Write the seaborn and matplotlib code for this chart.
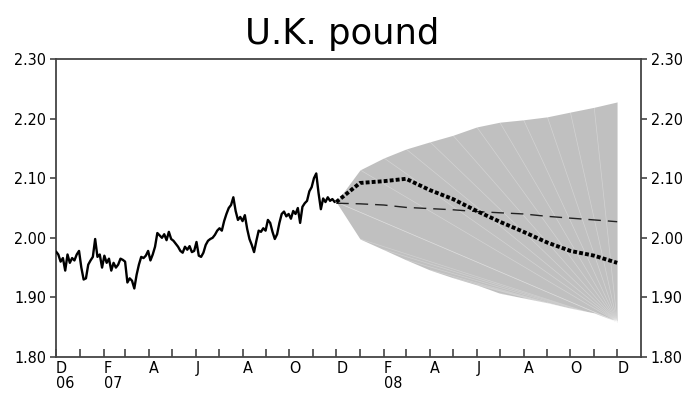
import numpy as np
import pandas as pd
import matplotlib
matplotlib.use("Agg")
import matplotlib.pyplot as plt
import matplotlib.dates as mdates
import seaborn as sns

# ---- data ----
hist_values = [
    1.977, 1.972, 1.960, 1.966, 1.945, 1.972, 1.958, 1.966, 1.962, 1.972,
    1.978, 1.950, 1.930, 1.932, 1.955, 1.962, 1.968, 1.998, 1.968, 1.972,
    1.950, 1.970, 1.958, 1.965, 1.945, 1.958, 1.950, 1.955, 1.965, 1.963,
    1.960, 1.925, 1.932, 1.928, 1.915, 1.938, 1.955, 1.968, 1.966, 1.970,
    1.978, 1.962, 1.972, 1.985, 2.008, 2.004, 2.000, 2.006, 1.996, 2.010,
    1.998, 1.995, 1.990, 1.985, 1.978, 1.975, 1.985, 1.980, 1.986, 1.976,
    1.978, 1.993, 1.970, 1.968, 1.975, 1.988, 1.995, 1.998, 2.000, 2.005,
    2.012, 2.016, 2.012, 2.028, 2.040, 2.050, 2.055, 2.068, 2.045, 2.030,
    2.035, 2.028, 2.038, 2.015, 1.998, 1.988, 1.976, 1.995, 2.012, 2.010,
    2.016, 2.012, 2.030, 2.025, 2.010, 1.998, 2.006, 2.025, 2.040, 2.044,
    2.036, 2.040, 2.032, 2.045, 2.040, 2.050, 2.025, 2.052, 2.058, 2.062,
    2.078, 2.085, 2.100, 2.108, 2.075, 2.048, 2.066, 2.060, 2.068, 2.062,
    2.065, 2.060,
]
hist_dates = pd.date_range("2006-12-01", periods=len(hist_values), freq="3D")

fc_dates = pd.date_range("2007-12-01", periods=13, freq="MS")
fan_upper = [2.060, 2.114, 2.134, 2.149, 2.161, 2.172, 2.186, 2.194, 2.198, 2.203, 2.211, 2.219, 2.228]
fan_lower = [2.060, 1.998, 1.980, 1.963, 1.946, 1.933, 1.921, 1.907, 1.899, 1.891, 1.882, 1.874, 1.859]
dotted_fc = [2.060, 2.092, 2.095, 2.099, 2.080, 2.065, 2.045, 2.027, 2.010, 1.992, 1.978, 1.970, 1.958]
dashed_fc = [2.058, 2.057, 2.055, 2.051, 2.049, 2.047, 2.044, 2.042, 2.040, 2.036, 2.033, 2.030, 2.027]

month_ticks = pd.date_range("2006-12-01", "2008-12-01", freq="MS")
month_letters = ["D", "J", "F", "M", "A", "M", "J", "J", "A", "S", "O", "N",
                 "D", "J", "F", "M", "A", "M", "J", "J", "A", "S", "O", "N", "D"]
year_labels = {0: "06", 2: "07", 14: "08"}
y_ticks = [1.80, 1.90, 2.00, 2.10, 2.20, 2.30]
title = "U.K. pound"

# ---- style ----
sns.set_style("ticks")
plt.rcParams["font.family"] = ["DejaVu Sans"]
plt.rcParams["font.stretch"] = "condensed"
plt.rcParams["text.color"] = "black"
plt.rcParams["xtick.color"] = "black"
plt.rcParams["ytick.color"] = "black"

fig = plt.figure(figsize=(6.85, 4.01), dpi=100)
ax = fig.add_axes([56 / 685, 1 - 357 / 401, (641 - 56) / 685, (357 - 59) / 401])

hist = pd.DataFrame({"date": hist_dates, "value": hist_values})
fc = pd.DataFrame({"date": fc_dates, "upper": fan_upper, "lower": fan_lower,
                   "dotted": dotted_fc, "dashed": dashed_fc})

# fan
ax.fill_between(fc["date"], fc["lower"], fc["upper"], color="#c0c0c0", lw=0, zorder=1)
end_x = mdates.date2num(fc["date"].iloc[-1])
end_y = fc["lower"].iloc[-1]
for d, u in zip(fc["date"], fc["upper"]):
    ax.plot([mdates.date2num(d), end_x], [u, end_y], color="white", lw=0.5, alpha=0.3, zorder=1.5)
for d, l in zip(fc["date"], fc["lower"]):
    ax.plot([mdates.date2num(d), end_x], [l, end_y], color="white", lw=0.5, alpha=0.25, zorder=1.5)

sns.lineplot(data=fc, x="date", y="dashed", ax=ax, color="#222222", lw=1.0, zorder=3)
ax.lines[-1].set_dashes([9, 5])
sns.lineplot(data=fc, x="date", y="dotted", ax=ax, color="black", lw=2.8, zorder=4)
line_dot = ax.lines[-1]
line_dot.set_dashes([1.0, 0.55])
line_dot.set_dash_capstyle("butt")

sns.lineplot(data=hist, x="date", y="value", ax=ax, color="black", lw=1.7, zorder=5)

# axes
ax.set_xlim(mdates.date2num(pd.Timestamp("2006-12-01")), mdates.date2num(pd.Timestamp("2009-01-01")))
ax.set_ylim(1.80, 2.30)
ax.set_yticks(y_ticks)
ax.set_yticklabels([f"{v:.2f}" for v in y_ticks])
ax.tick_params(axis="y", which="both", direction="out", length=4, width=1.2, color="#444444",
               left=True, right=True, labelleft=True, labelright=True, labelsize=11.5, pad=3,
               labelcolor="black")

labels = []
for i, m in enumerate(month_letters):
    if i % 2 == 0:
        lab = m
        if i in year_labels:
            lab = m + "\n" + year_labels[i]
    else:
        lab = ""
    labels.append(lab)
ax.set_xticks([mdates.date2num(d) for d in month_ticks])
ax.set_xticklabels(labels, ha="left", linespacing=0.95)
ax.tick_params(axis="x", direction="in", length=6, width=1.2, color="#444444", labelsize=11.5, pad=3,
               labelcolor="black")

for s in ax.spines.values():
    s.set_visible(True)
    s.set_color("#444444")
    s.set_linewidth(1.3)

ax.set_xlabel("")
ax.set_ylabel("")
fig.text(0.5, 1 - 34 / 401, title, ha="center", va="center", fontsize=25.5, color="black",
         fontstretch="normal")

fig.savefig("out.png", dpi=100)
